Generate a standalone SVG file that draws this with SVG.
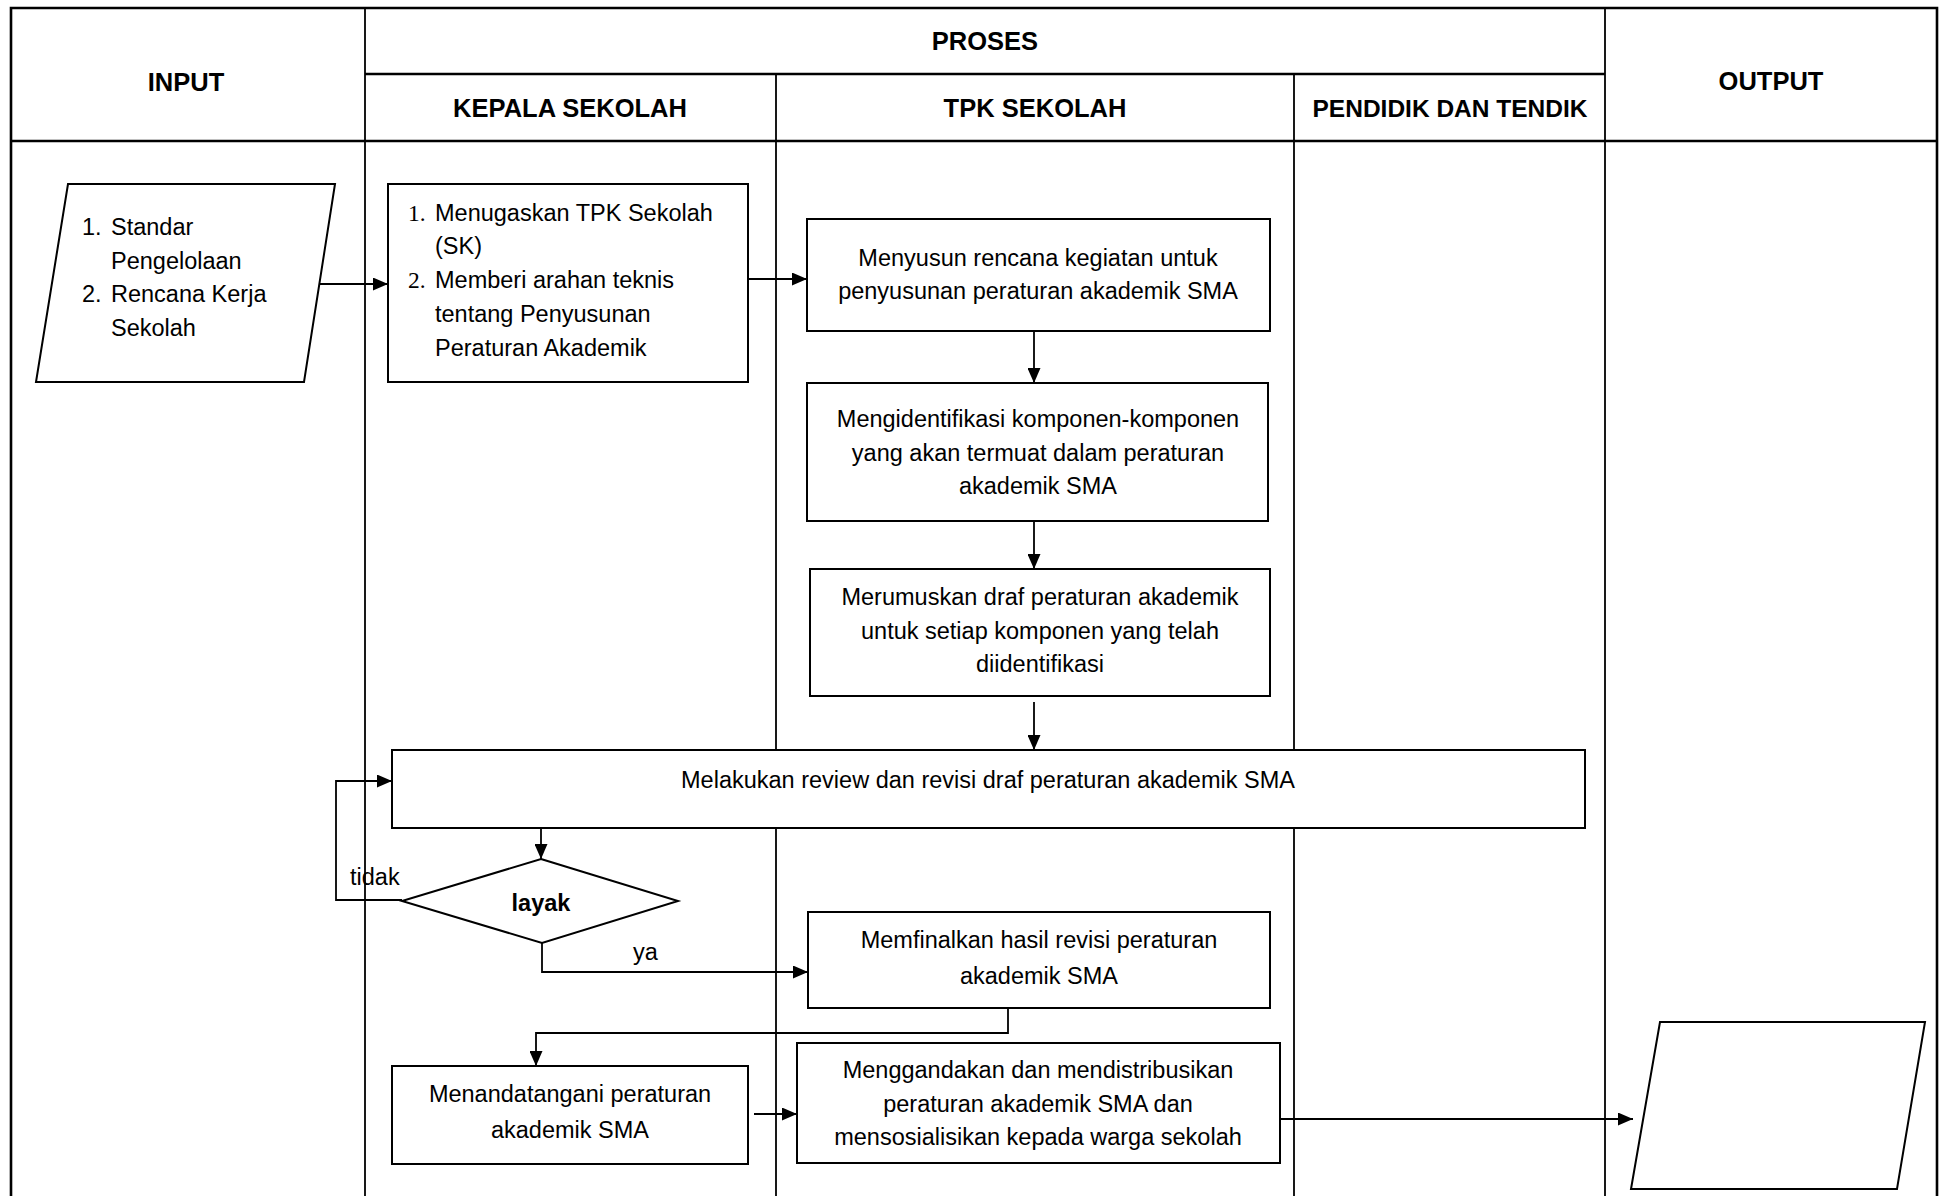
<svg xmlns="http://www.w3.org/2000/svg" width="1941" height="1196" viewBox="0 0 1941 1196">
<style>
.frame{stroke:#000;stroke-width:2.6;fill:none}
.col{stroke:#000;stroke-width:1.8;fill:none}
.hd{font-family:"Liberation Sans",Arial,sans-serif;font-weight:bold;font-size:25.5px;text-anchor:middle;fill:#000}
.box{fill:#fff;stroke:#000;stroke-width:2}
.t{font-family:"Liberation Sans",Arial,sans-serif;font-size:23.5px;fill:#000}
.c{text-anchor:middle}
.num{font-family:"Liberation Serif","Times New Roman",serif;font-size:23.5px;fill:#000}
.ln{stroke:#000;stroke-width:1.8;fill:none}
</style>
<defs>
<marker id="ah" markerUnits="userSpaceOnUse" markerWidth="15" markerHeight="13" refX="15" refY="6.5" orient="auto">
<path d="M0,0 L15,6.5 L0,13 z" fill="#000"/>
</marker>
</defs>
<rect width="1941" height="1196" fill="#fff"/>
<g id="lanes">
<path class="frame" d="M11,1196 V8 H1937 V1196"/>
<path class="frame" d="M365,74 H1605 M11,141 H1937"/>
<path class="col" d="M365,8 V1196 M1605,8 V1196 M776,74 V1196 M1294,74 V1196"/>
<text class="hd" x="186" y="91">INPUT</text>
<text class="hd" x="985" y="50">PROSES</text>
<text class="hd" x="1771" y="90">OUTPUT</text>
<text class="hd" x="570" y="117">KEPALA SEKOLAH</text>
<text class="hd" x="1035" y="117">TPK SEKOLAH</text>
<text class="hd" x="1450" y="117" style="font-size:24.5px">PENDIDIK DAN TENDIK</text>
</g>
<g id="input">
<polygon class="box" points="68,184 335,184 304,382 36,382"/>
<text class="t" x="82" y="235">1.</text>
<text class="t" x="111" y="235">Standar</text>
<text class="t" x="111" y="269">Pengelolaan</text>
<text class="t" x="82" y="302">2.</text>
<text class="t" x="111" y="302">Rencana Kerja</text>
<text class="t" x="111" y="336">Sekolah</text>
</g>
<g id="kepala-tugas">
<rect class="box" x="388" y="184" width="360" height="198"/>
<text class="num" x="408" y="221">1.</text>
<text class="t" x="435" y="221">Menugaskan TPK Sekolah</text>
<text class="t" x="435" y="254">(SK)</text>
<text class="num" x="408" y="288">2.</text>
<text class="t" x="435" y="288">Memberi arahan teknis</text>
<text class="t" x="435" y="322">tentang Penyusunan</text>
<text class="t" x="435" y="356">Peraturan Akademik</text>
</g>
<g id="tpk-rencana">
<rect class="box" x="807" y="219" width="463" height="112"/>
<text class="t c" x="1038" y="266">Menyusun rencana kegiatan untuk</text>
<text class="t c" x="1038" y="299">penyusunan peraturan akademik SMA</text>
</g>
<g id="tpk-identifikasi">
<rect class="box" x="807" y="383" width="461" height="138"/>
<text class="t c" x="1038" y="427">Mengidentifikasi komponen-komponen</text>
<text class="t c" x="1038" y="461">yang akan termuat dalam peraturan</text>
<text class="t c" x="1038" y="494">akademik SMA</text>
</g>
<g id="tpk-draf">
<rect class="box" x="810" y="569" width="460" height="127"/>
<text class="t c" x="1040" y="605">Merumuskan draf peraturan akademik</text>
<text class="t c" x="1040" y="639">untuk setiap komponen yang telah</text>
<text class="t c" x="1040" y="672">diidentifikasi</text>
</g>
<g id="review">
<rect class="box" x="392" y="750" width="1193" height="78"/>
<text class="t c" x="988" y="788">Melakukan review dan revisi draf peraturan akademik SMA</text>
</g>
<g id="layak">
<polygon class="box" points="541,859 678,901 542,943 402,901"/>
<text class="t c" x="541" y="911" style="font-weight:bold">layak</text>
</g>
<g id="tpk-final">
<rect class="box" x="808" y="912" width="462" height="96"/>
<text class="t c" x="1039" y="948">Memfinalkan hasil revisi peraturan</text>
<text class="t c" x="1039" y="984">akademik SMA</text>
</g>
<g id="kepala-tandatangan">
<rect class="box" x="392" y="1066" width="356" height="98"/>
<text class="t c" x="570" y="1102">Menandatangani peraturan</text>
<text class="t c" x="570" y="1138">akademik SMA</text>
</g>
<g id="tpk-distribusi">
<rect class="box" x="797" y="1043" width="483" height="120"/>
<text class="t c" x="1038" y="1078">Menggandakan dan mendistribusikan</text>
<text class="t c" x="1038" y="1112">peraturan akademik SMA dan</text>
<text class="t c" x="1038" y="1145">mensosialisikan kepada warga sekolah</text>
</g>
<g id="output">
<polygon class="box" points="1660,1022 1925,1022 1897,1189 1631,1189"/>
</g>
<g id="connectors">
<path class="ln" d="M319,284 H388" marker-end="url(#ah)"/>
<path class="ln" d="M748,279 H807" marker-end="url(#ah)"/>
<path class="ln" d="M1034,331 V383" marker-end="url(#ah)"/>
<path class="ln" d="M1034,521 V569" marker-end="url(#ah)"/>
<path class="ln" d="M1034,702 V750" marker-end="url(#ah)"/>
<path class="ln" d="M541,828 V859" marker-end="url(#ah)"/>
<path class="ln" d="M402,900 H336 V781 H392" marker-end="url(#ah)"/>
<path class="ln" d="M542,943 V972 H808" marker-end="url(#ah)"/>
<path class="ln" d="M1008,1008 V1033 H536 V1066" marker-end="url(#ah)"/>
<path class="ln" d="M754,1114 H797" marker-end="url(#ah)"/>
<path class="ln" d="M1280,1119 H1633" marker-end="url(#ah)"/>
<text class="t" x="350" y="885">tidak</text>
<text class="t" x="633" y="960">ya</text>
</g>
</svg>
